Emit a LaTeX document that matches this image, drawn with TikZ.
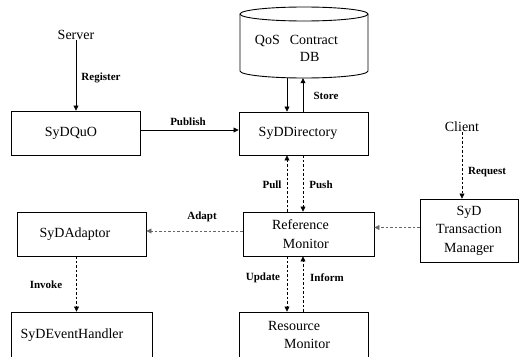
\documentclass[tikz,border=0pt]{standalone}
\usepackage{fontspec}
\setmainfont{Liberation Serif}
\usetikzlibrary{arrows.meta}
\begin{document}
\begin{tikzpicture}[x=1pt,y=-1pt,
  box/.style={draw, line width=0.9pt, inner sep=0pt, font=\fontsize{14}{18.5}\selectfont},
  plain/.style={font=\fontsize{14}{17}\selectfont, inner sep=0pt},
  lbl/.style={font=\fontsize{11}{13}\selectfont\bfseries, inner sep=0pt},
  arr/.style={-{Triangle[length=5pt,width=5pt]}, line width=0.6pt},
  darr/.style={arr, dash pattern=on 2.5pt off 2pt},
  garr/.style={darr, draw=black!60},
]
\useasboundingbox (0,0) rectangle (519,356);
\clip (0,0) rectangle (519,356);

% database cylinder
\draw[line width=0.9pt] (240,14) -- (240,71) arc[start angle=180,end angle=360,x radius=64pt,y radius=7pt] -- (368,14);
\draw[line width=0.9pt] (304,14) ellipse[x radius=64pt,y radius=7pt];
\node[minimum width=128pt, minimum height=71pt, inner sep=0pt] (db) at (304,42.5) {};
\node[plain, align=left] (dbtext) at (296.5,48.5) {QoS\hspace{10pt}Contract\\\hspace*{45pt}DB};

% boxes
\node[box, minimum width=129pt, minimum height=44pt, align=center] (quo) at (75.5,133) {\hspace*{-9pt}SyDQuO};
\node[box, minimum width=129pt, minimum height=43pt, align=center] (dir) at (303.5,133.5) {\hspace*{-11pt}SyDDirectory};
\node[box, minimum width=129pt, minimum height=44pt, align=center] (adp) at (81.5,234) {\hspace*{-13pt}SyDAdaptor};
\node[box, minimum width=131pt, minimum height=44pt, align=right] (rm) at (308.5,234) {Reference\hspace*{16pt}\\Monitor\hspace*{16pt}};
\node[box, minimum width=98pt, minimum height=63pt, align=center] (tm) at (469,230.5) {SyD\\Transaction\\Manager};
\node[box, minimum width=141pt, minimum height=46pt, align=center] (eh) at (81.5,335) {\hspace*{-19pt}SyDEventHandler};
\node[box, minimum width=129pt, minimum height=46pt, align=left] (res) at (303.5,335) {Resource\\\hspace*{16pt}Monitor\hspace*{9pt}};

% free texts
\node[plain] (server) at (76,35) {Server};
\node[plain] (client) at (462,127) {Client};

% helper x positions
\coordinate (xa) at (287,0);
\coordinate (xb) at (303,0);

% connectors
\draw[arr] (server.south) -- (server.south |- quo.north);
\draw[arr] ([yshift=3pt]quo.east) -- ([yshift=3pt]quo.east -| dir.west);
\draw[arr] (xa |- db.south) -- (xa |- dir.north);
\draw[arr] (xb |- dir.north) -- (xb |- db.south);
\draw[darr] (xa |- rm.north) -- (xa |- dir.south);
\draw[darr] (xb |- dir.south) -- (xb |- rm.north);
\draw[darr] (xa |- rm.south) -- (xa |- res.north);
\draw[darr] (xb |- res.north) -- (xb |- rm.south);
\draw[darr] (client.south) -- (client.south |- tm.north);
\draw[garr] ([yshift=3pt]tm.west) -- ([yshift=3pt]tm.west -| rm.east);
\draw[garr] ([yshift=3pt]rm.west) -- ([yshift=3pt]rm.west -| adp.east);
\draw[darr] ([xshift=-5pt]adp.south) -- ([xshift=-5pt]adp.south |- eh.north);

% labels
\node[lbl] (lregister) at (101,78) {Register};
\node[lbl] (lpublish) at (188,122) {Publish};
\node[lbl] (lstore) at (326,96) {Store};
\node[lbl] (lrequest) at (487,172) {Request};
\node[lbl] (lpull) at (272,185) {Pull};
\node[lbl] (lpush) at (321,185) {Push};
\node[lbl] (ladapt) at (202,217) {Adapt};
\node[lbl] (lupdate) at (263,278) {Update};
\node[lbl] (linform) at (327,278) {Inform};
\node[lbl] (linvoke) at (46,285) {Invoke};
\end{tikzpicture}
\end{document}
